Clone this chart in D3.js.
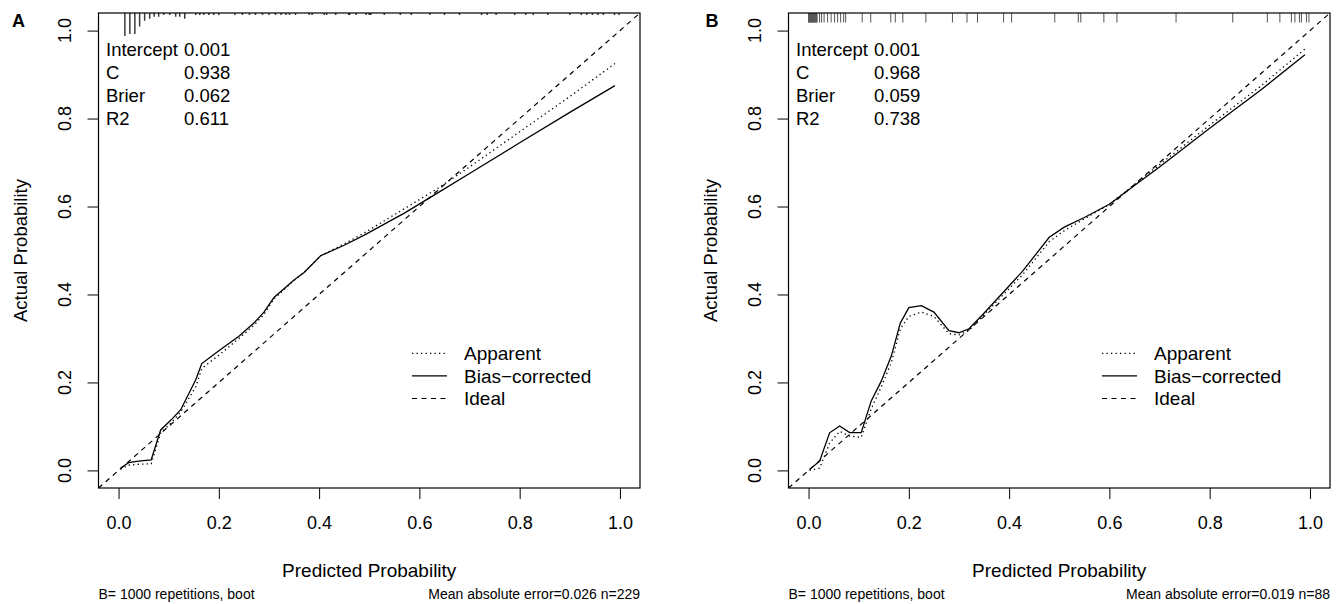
<!DOCTYPE html>
<html>
<head>
<meta charset="utf-8">
<script src="https://cdn.jsdelivr.net/npm/d3@7"></script>
<style>
  body { margin: 0; background: #fff; }
  text { font-family: "Liberation Sans", Arial, Helvetica, sans-serif; fill: #000; }
</style>
</head>
<body>
<script>
// ---- data ----
var ticks = [0, 0.2, 0.4, 0.6, 0.8, 1.0];
var panelLabels = ["A", "B"];
var statNames = ["Intercept", "C", "Brier", "R2"];
var statValsA = ["0.001", "0.938", "0.062", "0.611"];
var statValsB = ["0.001", "0.968", "0.059", "0.738"];
var legendLabels = ["Apparent", "Bias\u2212corrected", "Ideal"];
var footLeft = ["B= 1000 repetitions, boot", "B= 1000 repetitions, boot"];
var footRight = ["Mean absolute error=0.026 n=229", "Mean absolute error=0.019 n=88"];

// panel A curves
var predA     = [0.004, 0.02, 0.04, 0.065, 0.084, 0.105, 0.124, 0.154, 0.166, 0.2, 0.24, 0.27, 0.29, 0.31, 0.35, 0.37, 0.403, 0.45, 0.49, 0.57, 0.635, 0.7, 0.8, 0.9, 0.99];
var apparentA = [0.003, 0.012, 0.014, 0.015, 0.085, 0.108, 0.133, 0.19, 0.232, 0.262, 0.3, 0.33, 0.355, 0.39, 0.432, 0.45, 0.488, 0.515, 0.54, 0.595, 0.64, 0.69, 0.77, 0.85, 0.925];
var biasA     = [0.005, 0.0175, 0.021, 0.024, 0.092, 0.115, 0.138, 0.206, 0.243, 0.272, 0.305, 0.335, 0.36, 0.393, 0.433, 0.45, 0.488, 0.512, 0.535, 0.585, 0.63, 0.675, 0.745, 0.814, 0.875];

// panel B curves
var predB     = [0.002, 0.022, 0.042, 0.062, 0.082, 0.105, 0.125, 0.145, 0.165, 0.183, 0.2, 0.225, 0.25, 0.28, 0.3, 0.32, 0.348, 0.427, 0.48, 0.51, 0.55, 0.6, 0.65, 0.7, 0.8, 0.9, 0.99];
var apparentB = [0.0, 0.005, 0.062, 0.089, 0.078, 0.075, 0.14, 0.19, 0.245, 0.322, 0.35, 0.36, 0.35, 0.311, 0.308, 0.318, 0.352, 0.445, 0.52, 0.545, 0.572, 0.605, 0.65, 0.695, 0.785, 0.872, 0.958];
var biasB     = [0.002, 0.021, 0.0855, 0.101, 0.086, 0.086, 0.158, 0.203, 0.26, 0.335, 0.37, 0.3745, 0.36, 0.318, 0.313, 0.322, 0.355, 0.453, 0.53, 0.553, 0.575, 0.605, 0.648, 0.69, 0.778, 0.863, 0.945];

// rug (spike histogram) of predicted values, panel A: position and frequency
var rugA      = [0.0126, 0.0225, 0.0325, 0.042, 0.052, 0.062, 0.071, 0.08, 0.09, 0.102, 0.114, 0.122, 0.132,
                 0.154, 0.162, 0.17, 0.18, 0.19, 0.2, 0.232, 0.247, 0.261, 0.273, 0.287, 0.3, 0.313, 0.324, 0.334, 0.341, 0.353,
                 0.38, 0.386, 0.41, 0.415, 0.433, 0.459, 0.461, 0.474, 0.494, 0.5, 0.503, 0.53, 0.562, 0.584, 0.621, 0.65, 0.68,
                 0.724, 0.735, 0.753, 0.79, 0.812, 0.827, 0.856, 0.9, 0.923, 0.934, 0.945, 0.956, 0.967, 0.989, 0.998];
var rugCountA = [12, 11, 11, 7, 4, 3, 2, 2, 1, 1, 2, 2, 3,
                 1, 1, 1, 1, 1, 1, 1, 1, 1, 1, 1, 1, 1, 1, 1, 1, 1,
                 1, 1, 1, 1, 1, 1, 1, 1, 1, 1, 1, 1, 1, 1, 1, 1, 1,
                 1, 1, 1, 1, 1, 1, 1, 1, 1, 1, 1, 1, 1, 1, 1];

// rug panel B: one tick per value
var rugB = [0.0, 0.001, 0.002, 0.003, 0.004, 0.005, 0.006, 0.007, 0.008, 0.009, 0.01, 0.011, 0.012, 0.013, 0.014, 0.015, 0.016, 0.017,
            0.022, 0.026, 0.031, 0.038, 0.045, 0.052, 0.058, 0.064, 0.07, 0.074, 0.107, 0.124, 0.164, 0.173, 0.188, 0.234,
            0.287, 0.316, 0.337, 0.389, 0.405, 0.491, 0.538, 0.543, 0.589, 0.615, 0.733, 0.846, 0.915, 0.94, 0.963, 0.97,
            0.979, 0.983, 0.993, 0.998];

// ---- layout ----
var svgWidth = 1343, svgHeight = 604;
var plotW = 541.5, plotH = 475, plotTop = 13;
var panelLeft = [98.5, 788.5];
var letterX = [-86.5, -83];

var svg = d3.select("body").append("svg")
  .attr("width", svgWidth)
  .attr("height", svgHeight);

var x = d3.scaleLinear().domain([-0.04, 1.04]).range([0, plotW]);
var y = d3.scaleLinear().domain([-0.04, 1.04]).range([plotH, 0]);
var spike = d3.scaleLinear().domain([0, 12]).range([0, 23]);

var line = d3.line().x(d => x(d[0])).y(d => y(d[1]));

function drawPanel(i, pred, apparent, bias, statVals, rugDraw) {
  var g = svg.append("g")
    .attr("transform", `translate(${panelLeft[i]}, ${plotTop})`);

  g.append("clipPath").attr("id", "clip" + i)
    .append("rect").attr("width", plotW).attr("height", plotH);

  var plot = g.append("g").attr("clip-path", `url(#clip${i})`);

  // ideal
  plot.append("path")
    .datum([[-0.04, -0.04], [1.04, 1.04]])
    .attr("d", line)
    .attr("fill", "none").attr("stroke", "#000").attr("stroke-width", 1.2)
    .attr("stroke-dasharray", "5,4.5");

  // apparent (dotted)
  plot.append("path")
    .datum(d3.zip(pred, apparent))
    .attr("d", line)
    .attr("fill", "none").attr("stroke", "#000").attr("stroke-width", 1.3)
    .attr("stroke-dasharray", "1.3,3.2");

  // bias-corrected (solid)
  plot.append("path")
    .datum(d3.zip(pred, bias))
    .attr("d", line)
    .attr("fill", "none").attr("stroke", "#000").attr("stroke-width", 1.3);

  rugDraw(plot);

  // frame
  g.append("rect")
    .attr("width", plotW).attr("height", plotH)
    .attr("fill", "none").attr("stroke", "#000").attr("stroke-width", 1.2);

  // x axis
  var xa = g.append("g")
    .attr("transform", `translate(0, ${plotH})`)
    .call(d3.axisBottom(x).tickValues(ticks).tickFormat(d3.format(".1f")).tickSize(11).tickPadding(17));
  xa.select(".domain").remove();
  xa.attr("font-size", 18).attr("font-family", null);
  xa.selectAll("line").attr("stroke", "#000");

  // y axis
  var ya = g.append("g")
    .call(d3.axisLeft(y).tickValues(ticks).tickFormat("").tickSize(11));
  ya.select(".domain").remove();
  ya.selectAll("line").attr("stroke", "#000");

  g.selectAll(".ylab")
    .data(ticks)
    .enter()
    .append("text")
    .attr("class", "ylab")
    .attr("transform", d => `translate(-33.5, ${y(d)})rotate(-90)`)
    .attr("dy", "0.35em")
    .attr("text-anchor", "middle")
    .attr("font-size", 18)
    .text(d3.format(".1f"));

  // axis titles
  g.append("text")
    .attr("x", plotW / 2).attr("y", 564)
    .attr("text-anchor", "middle").attr("font-size", 19)
    .text("Predicted Probability");
  g.append("text")
    .attr("transform", `translate(-78, ${plotH / 2})rotate(-90)`)
    .attr("dy", "0.35em")
    .attr("text-anchor", "middle").attr("font-size", 18.5)
    .text("Actual Probability");

  // panel letter
  g.append("text")
    .attr("x", letterX[i]).attr("y", 14)
    .attr("font-size", 18).attr("font-weight", "bold")
    .text(panelLabels[i]);

  // stats block
  var st = g.selectAll(".stat")
    .data(statNames)
    .enter()
    .append("g")
    .attr("class", "stat")
    .attr("transform", (d, j) => `translate(0, ${42.5 + j * 23.3})`);
  st.append("text").attr("x", 7.5).attr("font-size", 18.5).text(d => d);
  st.append("text").attr("x", 85.5).attr("font-size", 18.5).text((d, j) => statVals[j]);

  // legend
  var dashes = ["1.3,3.2", null, "5,4.5"];
  var lg = g.selectAll(".leg")
    .data(legendLabels)
    .enter()
    .append("g")
    .attr("class", "leg")
    .attr("transform", (d, j) => `translate(0, ${340.3 + j * 22.6})`);
  lg.append("line")
    .attr("x1", 313.5).attr("x2", 348.5)
    .attr("stroke", "#000").attr("stroke-width", 1.2)
    .attr("stroke-dasharray", (d, j) => dashes[j]);
  lg.append("text")
    .attr("x", 365.5).attr("dy", "0.35em")
    .attr("font-size", 19)
    .text(d => d);

  // footer
  g.append("text")
    .attr("x", 0).attr("y", 586)
    .attr("font-size", 14)
    .text(footLeft[i]);
  g.append("text")
    .attr("x", plotW).attr("y", 586)
    .attr("text-anchor", "end").attr("font-size", 14)
    .text(footRight[i]);
}

drawPanel(0, predA, apparentA, biasA, statValsA, function(plot) {
  plot.selectAll(".rug")
    .data(d3.zip(rugA, rugCountA))
    .enter()
    .append("line")
    .attr("class", "rug")
    .attr("x1", d => x(d[0])).attr("x2", d => x(d[0]))
    .attr("y1", 0).attr("y2", d => spike(d[1]))
    .attr("stroke", "#3a3a3a").attr("stroke-width", 1.5);
});

drawPanel(1, predB, apparentB, biasB, statValsB, function(plot) {
  plot.selectAll(".rug")
    .data(rugB)
    .enter()
    .append("line")
    .attr("class", "rug")
    .attr("x1", d => x(d)).attr("x2", d => x(d))
    .attr("y1", 0).attr("y2", 9.5)
    .attr("stroke", "#555").attr("stroke-width", 1);
});
</script>
</body>
</html>
